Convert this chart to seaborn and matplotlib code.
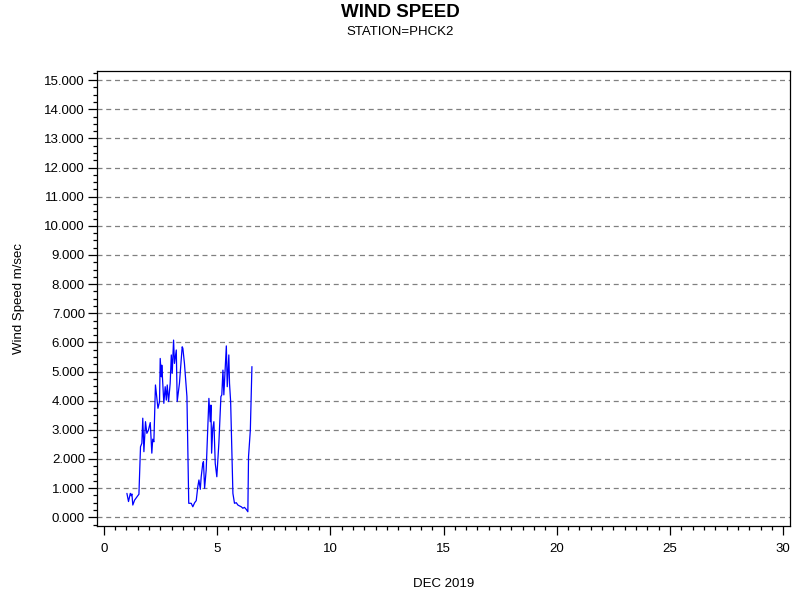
import numpy as np
import pandas as pd
import matplotlib
matplotlib.use("Agg")
import matplotlib.pyplot as plt
import seaborn as sns
from matplotlib.ticker import MultipleLocator, FixedLocator

days = [1.02, 1.09, 1.17, 1.21, 1.24, 1.28, 1.36, 1.50, 1.55, 1.62, 1.68, 1.72, 1.77, 1.84,
        1.90, 1.97, 2.05, 2.12, 2.16, 2.21, 2.28, 2.39, 2.46, 2.49, 2.54, 2.56, 2.65, 2.71,
        2.76, 2.80, 2.86, 2.93, 2.98, 3.02, 3.08, 3.12, 3.20, 3.24, 3.34, 3.46, 3.49, 3.56,
        3.67, 3.75, 3.86, 3.93, 4.01, 4.08, 4.15, 4.20, 4.26, 4.30, 4.37, 4.40, 4.45, 4.52,
        4.64, 4.70, 4.73, 4.76, 4.81, 4.86, 4.92, 4.99, 5.08, 5.17, 5.21, 5.26, 5.30, 5.41,
        5.45, 5.52, 5.55, 5.60, 5.70, 5.77, 5.85, 5.92, 5.99, 6.07, 6.14, 6.21, 6.29, 6.36,
        6.39, 6.47, 6.54]
speed = [0.82, 0.54, 0.82, 0.74, 0.80, 0.42, 0.59, 0.74, 0.79, 2.42, 2.54, 3.40, 2.25, 3.28,
         2.88, 2.99, 3.25, 2.20, 2.68, 2.59, 4.54, 3.74, 3.97, 5.45, 4.82, 5.22, 3.91, 4.48,
         4.02, 4.54, 3.97, 4.60, 5.57, 4.94, 6.08, 5.28, 5.74, 3.97, 4.60, 5.85, 5.80, 5.28,
         4.14, 0.48, 0.48, 0.36, 0.50, 0.57, 1.05, 1.28, 0.96, 1.39, 1.85, 1.91, 0.99, 1.62,
         4.08, 3.28, 3.85, 2.20, 3.05, 3.28, 1.85, 1.39, 2.54, 4.14, 4.20, 5.05, 4.20, 5.88,
         4.48, 5.57, 4.60, 3.97, 0.82, 0.48, 0.50, 0.42, 0.39, 0.36, 0.31, 0.34, 0.27, 0.19,
         2.08, 2.99, 5.17]

x_ticks = [0, 5, 10, 15, 20, 25, 30]
y_ticks = list(range(0, 16))
y_labels = [f"{v:.3f}" for v in y_ticks]

df = pd.DataFrame({"day": days, "speed": speed})

sns.set_style("ticks")
plt.rcParams['font.family'] = ['Liberation Sans', 'DejaVu Sans']
plt.rcParams['text.color'] = 'black'
plt.rcParams['axes.labelcolor'] = 'black'
plt.rcParams['xtick.color'] = 'black'
plt.rcParams['ytick.color'] = 'black'

fig = plt.figure(figsize=(8, 6), dpi=100)
ax = fig.add_axes([0.121, 0.1233, 0.8665, 0.7587])

sns.lineplot(data=df, x="day", y="speed", ax=ax, color="#0000ff", linewidth=0.9,
             estimator=None, sort=False)

ax.set_xlim(-0.31, 30.3)
ax.set_ylim(-0.30, 15.32)

ax.xaxis.set_major_locator(FixedLocator(x_ticks))
ax.xaxis.set_minor_locator(MultipleLocator(0.5))
ax.set_xticklabels([str(t) for t in x_ticks])
ax.yaxis.set_major_locator(FixedLocator(y_ticks))
ax.yaxis.set_minor_locator(MultipleLocator(0.25))
ax.set_yticklabels(y_labels)

ax.tick_params(axis='both', which='major', length=6.5, width=0.9, labelsize=9.5,
               color='black', labelcolor='black')
ax.tick_params(axis='both', which='minor', length=3, width=0.9, color='black')
ax.tick_params(axis='x', which='major', pad=6)
ax.tick_params(axis='y', which='major', pad=2)

for y in y_ticks:
    ax.axhline(y, color='#808080', linestyle=(0, (4, 3)), linewidth=0.9, zorder=0)

for s in ax.spines.values():
    s.set_visible(True)
    s.set_color('black')
    s.set_linewidth(0.9)

ax.set_xlabel("DEC 2019", fontsize=9.5, labelpad=16, color='black')
ax.set_ylabel("Wind Speed m/sec", fontsize=9.5, labelpad=14, color='black')

fig.text(0.5, 0.993, "WIND SPEED", ha='center', va='top', fontsize=13.5,
         fontweight='bold', color='black')
fig.text(0.5, 0.957, "STATION=PHCK2", ha='center', va='top', fontsize=9.5, color='black')

fig.savefig("out.png", dpi=100)
